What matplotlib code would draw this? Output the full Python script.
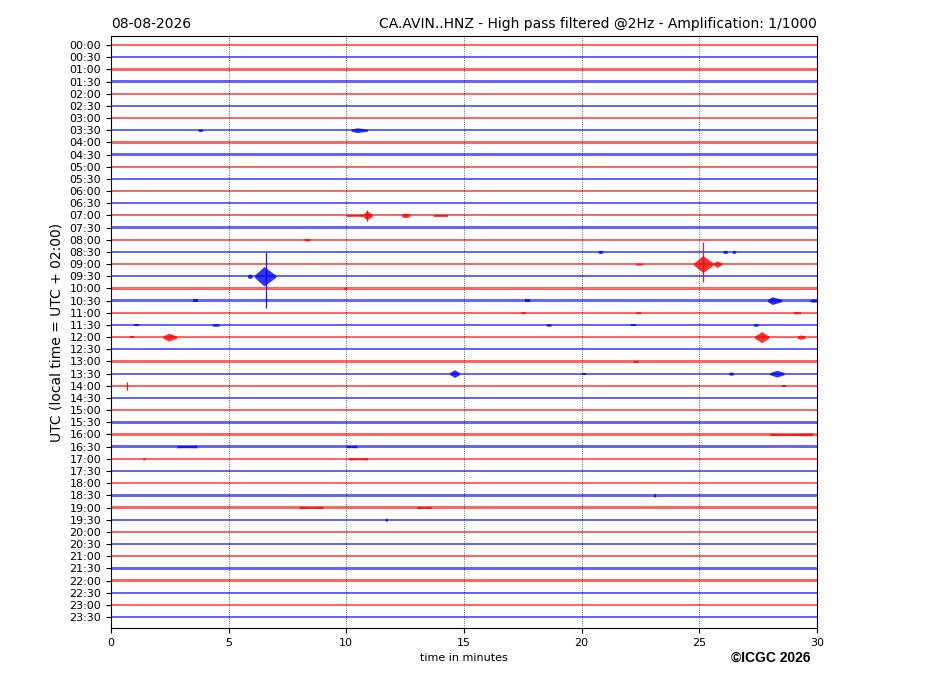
import matplotlib
matplotlib.use("Agg")
import matplotlib.pyplot as plt

# ---------------- data ----------------
date_label = "08-08-2026"
title_right = "CA.AVIN..HNZ - High pass filtered @2Hz - Amplification: 1/1000"

trace_labels = ["00:00", "00:30", "01:00", "01:30", "02:00", "02:30", "03:00", "03:30",
                "04:00", "04:30", "05:00", "05:30", "06:00", "06:30", "07:00", "07:30",
                "08:00", "08:30", "09:00", "09:30", "10:00", "10:30", "11:00", "11:30",
                "12:00", "12:30", "13:00", "13:30", "14:00", "14:30", "15:00", "15:30",
                "16:00", "16:30", "17:00", "17:30", "18:00", "18:30", "19:00", "19:30",
                "20:00", "20:30", "21:00", "21:30", "22:00", "22:30", "23:00", "23:30"]

trace_colors = ["red", "blue"]

# background noise half-amplitude of each trace (in trace-spacing units)
noise_level = [0.05, 0.06, 0.10, 0.11, 0.08, 0.06, 0.07, 0.08,
               0.10, 0.10, 0.08, 0.07, 0.07, 0.08, 0.09, 0.09,
               0.08, 0.08, 0.07, 0.09, 0.10, 0.09, 0.08, 0.09,
               0.09, 0.09, 0.10, 0.09, 0.09, 0.09, 0.10, 0.10,
               0.10, 0.10, 0.10, 0.10, 0.10, 0.10, 0.10, 0.08,
               0.07, 0.07, 0.07, 0.10, 0.09, 0.07, 0.08, 0.06]

# events: trace index, start minute, peak minute, end minute, envelope half-amplitude
ev_trace = [7, 7, 14, 14, 14, 14, 16, 17, 17, 17, 18, 18, 18, 19, 19, 20,
            21, 21, 21, 21, 22, 22, 22, 23, 23, 23, 23, 23, 24, 24, 24, 24,
            26, 27, 27, 27, 27, 28, 32, 33, 33, 34, 34, 37, 38, 38, 39]
ev_start = [3.70, 10.20, 10.00, 10.70, 12.35, 13.70, 8.20, 20.70, 26.00, 26.40, 22.30, 24.75, 25.60, 5.80, 6.10, 9.90,
            3.50, 17.60, 27.90, 29.70, 17.40, 22.30, 29.00, 1.00, 4.30, 18.50, 22.10, 27.30, 0.80, 2.20, 27.35, 29.15,
            22.20, 14.40, 20.00, 26.25, 28.00, 28.50, 28.00, 2.80, 10.00, 1.35, 10.10, 23.05, 8.00, 13.00, 11.65]
ev_peak = [3.78, 10.45, 10.40, 10.88, 12.50, 14.00, 8.30, 20.80, 26.10, 26.45, 22.40, 25.15, 25.75, 5.90, 6.50, 9.95,
           3.60, 17.70, 28.10, 29.85, 17.50, 22.40, 29.10, 1.10, 4.45, 18.60, 22.20, 27.40, 0.90, 2.45, 27.65, 29.30,
           22.30, 14.60, 20.10, 26.35, 28.30, 28.60, 28.50, 3.20, 10.20, 1.40, 10.50, 23.10, 8.50, 13.30, 11.70]
ev_end = [3.90, 10.90, 10.70, 11.10, 12.70, 14.30, 8.45, 20.90, 26.20, 26.55, 22.60, 25.60, 25.95, 6.00, 7.00, 10.00,
          3.70, 17.80, 28.50, 30.00, 17.60, 22.50, 29.30, 1.20, 4.60, 18.70, 22.30, 27.50, 1.00, 2.80, 27.95, 29.50,
          22.40, 14.80, 20.20, 26.45, 28.60, 28.70, 29.80, 3.65, 10.45, 1.45, 10.90, 23.15, 9.00, 13.60, 11.75]
ev_amp = [0.12, 0.20, 0.07, 0.36, 0.20, 0.08, 0.11, 0.14, 0.14, 0.14, 0.09, 0.70, 0.28, 0.20, 0.80, 0.11,
          0.09, 0.09, 0.32, 0.14, 0.07, 0.07, 0.09, 0.09, 0.11, 0.11, 0.09, 0.11, 0.09, 0.32, 0.45, 0.18,
          0.07, 0.32, 0.09, 0.14, 0.28, 0.09, 0.07, 0.08, 0.08, 0.09, 0.07, 0.14, 0.06, 0.06, 0.14]

# single large peaks: trace index, minute, excursion upward, excursion downward
sp_trace = [19, 18, 14, 28]
sp_min = [6.57, 25.15, 10.88, 0.67]
sp_up = [2.00, 1.80, 0.45, 0.35]
sp_down = [2.60, 1.45, 0.45, 0.35]

x_ticks = [0, 5, 10, 15, 20, 25, 30]
x_range = [0, 30]

# ---------------- plot ----------------
fig = plt.figure(figsize=(9.27, 6.96), dpi=100)
ax = fig.add_axes([0.1197, 0.0977, 0.7616, 0.8506])

n_tr = len(trace_labels)
for i in range(n_tr):
    c = trace_colors[i % 2]
    nl = noise_level[i]
    ax.fill_between(x_range, [i - nl, i - nl], [i + nl, i + nl], color=c, alpha=0.6, lw=0, zorder=2)

for t, s, p, e, a in zip(ev_trace, ev_start, ev_peak, ev_end, ev_amp):
    c = trace_colors[t % 2]
    nl = noise_level[t]
    ax.fill_between([s, p, e], [t - nl, t - a, t - nl], [t + nl, t + a, t + nl],
                    color=c, alpha=0.8, lw=0, zorder=4)

for t, m, u, d in zip(sp_trace, sp_min, sp_up, sp_down):
    c = trace_colors[t % 2]
    ax.vlines(m, t - u, t + d, color=c, lw=0.9, alpha=0.9, zorder=5)

ax.set_xlim(0, 30)
ax.set_ylim(47.9, -0.74)
ax.set_yticks(range(n_tr))
ax.set_yticklabels(trace_labels, fontsize=8)
ax.set_xticks(x_ticks)
ax.set_xticklabels([str(v) for v in x_ticks], fontsize=8)
ax.grid(axis='x', linestyle=':', color='black', lw=0.6, alpha=0.8)
ax.set_axisbelow(False)

ax.set_xlabel("time in minutes", fontsize=8)
ax.set_ylabel("UTC (local time = UTC + 02:00)", fontsize=10)
ax.set_title(date_label, loc='left', fontsize=10)
ax.set_title(title_right, loc='right', fontsize=10)

fig.text(0.831, 0.0546, "\u00a9ICGC 2026", fontsize=10, fontweight='bold',
         family='Liberation Sans', ha='center', va='center')

fig.savefig("out.png", dpi=100)
